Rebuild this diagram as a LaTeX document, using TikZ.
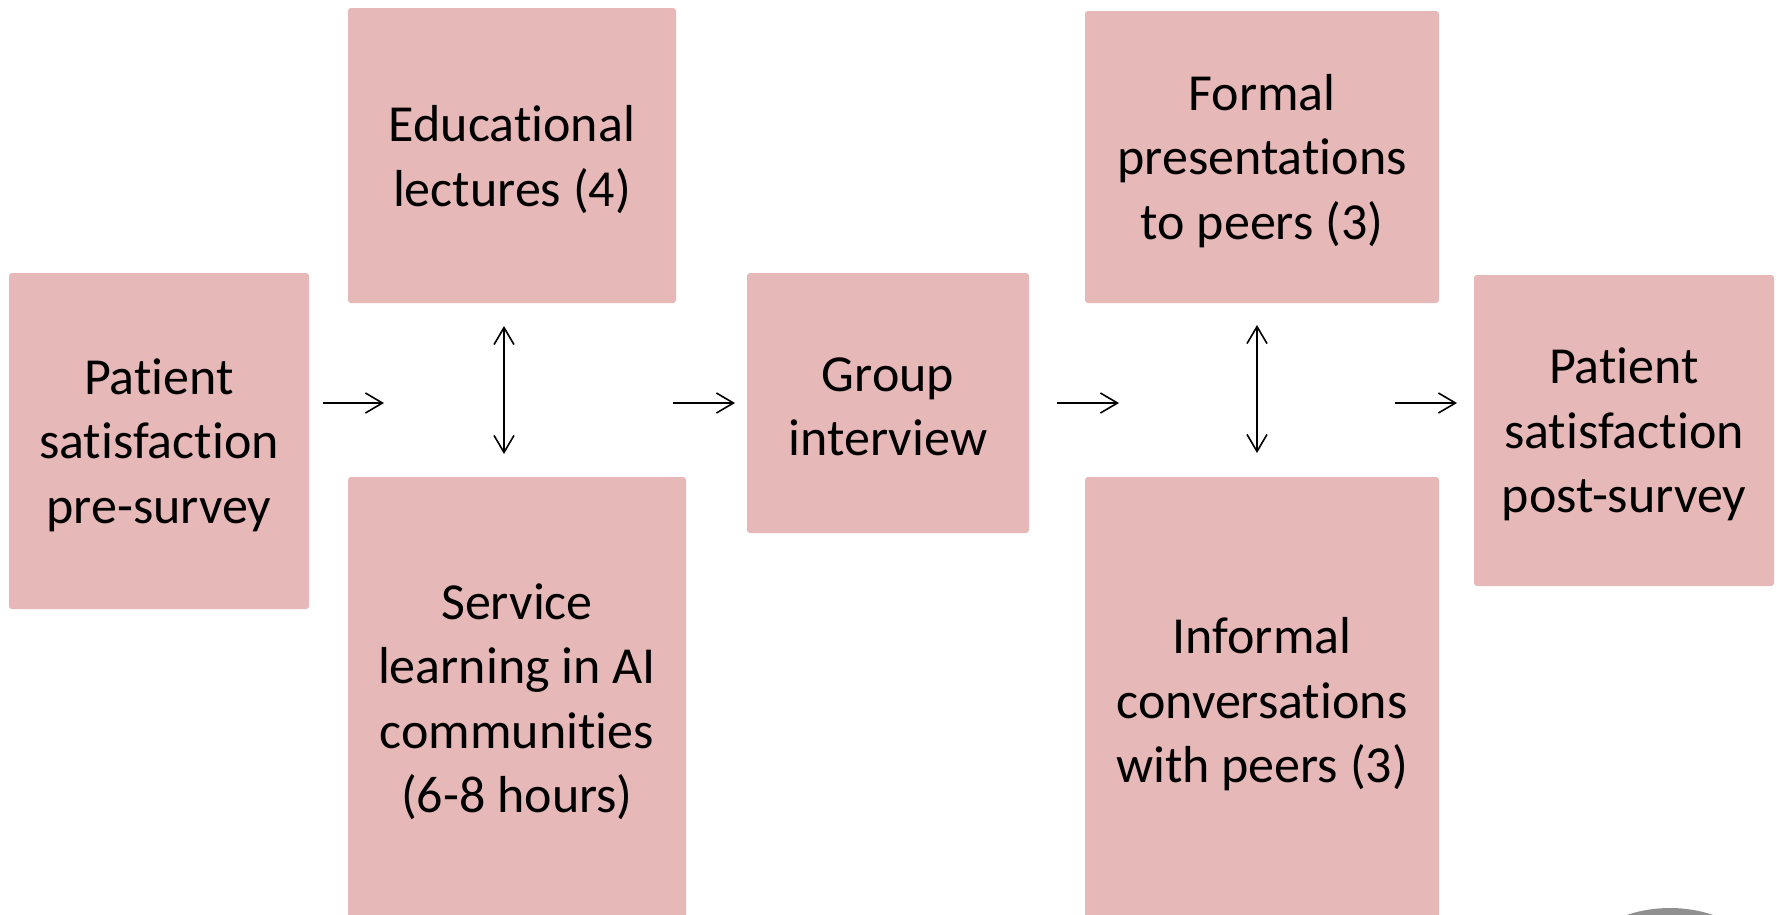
\documentclass[tikz,border=0pt]{standalone}
\usepackage{fontspec}
\setmainfont{Carlito}[Ligatures={NoCommon,NoContextual}]
\usetikzlibrary{arrows.meta}
\definecolor{boxpink}{HTML}{E6B8B7}
\definecolor{cornergray}{HTML}{909090}
% keeps t and i apart (the font would otherwise join them)
\newcommand{\nolig}{\kern0pt }
\tikzset{
  stagebox/.style={fill=boxpink, rounded corners=3pt, inner sep=0pt},
  stagetext/.style={inner sep=0pt, align=center, font=\fontsize{52}{64.5}\selectfont},
  flow/.style={line width=1.6pt, -{Straight Barb[length=17pt,width=20pt,line width=1.6pt]}},
  twoway/.style={line width=1.6pt, {Straight Barb[length=17pt,width=20pt,line width=1.6pt]}-{Straight Barb[length=17pt,width=20pt,line width=1.6pt]}}
}
% a box given by its corners (pixel grid, y pointing down), text centred a little low
\newcommand{\stage}[6]{%
  \node[stagebox, minimum width=#4-#2, minimum height=#5-#3]
    (#1) at ({(#2+#4)/2},{(#3+#5)/2}) {};
  \node[stagetext] (#1-text) at ([yshift=-4pt]#1.center) {#6};}
\begin{document}
\begin{tikzpicture}[x=1pt,y=-1pt]
  \useasboundingbox (0,0) rectangle (1779,914);
  \clip (0,0) rectangle (1779,914);
  \fill[white] (0,0) rectangle (1779,914);

  % stages
  \stage{pre}{9}{273}{309}{609}{Pat\nolig ient\\sat\nolig isfact\nolig ion\\pre-survey}
  \stage{lect}{348}{8}{676}{303}{Educat\nolig ional\\lectures (4)}
  \stage{serv}{348}{477}{686}{918}{Service\\learning in AI\\communit\nolig ies\\(6-8 hours)}
  \stage{group}{747}{273}{1029}{533}{Group\\interview}
  \stage{formal}{1085}{11}{1439}{303}{Formal\\presentat\nolig ions\\to peers (3)}
  \stage{inform}{1085}{477}{1439}{924}{Informal\\conversat\nolig ions\\with peers (3)}
  \stage{post}{1474}{275}{1774}{586}{Pat\nolig ient\\sat\nolig isfact\nolig ion\\post-survey}

  % arrow end points in the gaps between stages
  \coordinate (a1s) at (323,403);  \coordinate (a1e) at (384,403);
  \coordinate (a2s) at (673,403);  \coordinate (a2e) at (735,403);
  \coordinate (a3s) at (1057,403); \coordinate (a3e) at (1119,403);
  \coordinate (a4s) at (1395,403); \coordinate (a4e) at (1457,403);
  \coordinate (v1t) at (504,326);  \coordinate (v1b) at (504,454);
  \coordinate (v2t) at (1257,325); \coordinate (v2b) at (1257,453);

  \draw[flow] (a1s) -- (a1e);
  \draw[flow] (a2s) -- (a2e);
  \draw[flow] (a3s) -- (a3e);
  \draw[flow] (a4s) -- (a4e);
  \draw[twoway] (v1t) -- (v1b);
  \draw[twoway] (v2t) -- (v2b);

  % grey disc peeking in at the lower right
  \fill[cornergray] (1670,1045) circle (137);
\end{tikzpicture}
\end{document}
